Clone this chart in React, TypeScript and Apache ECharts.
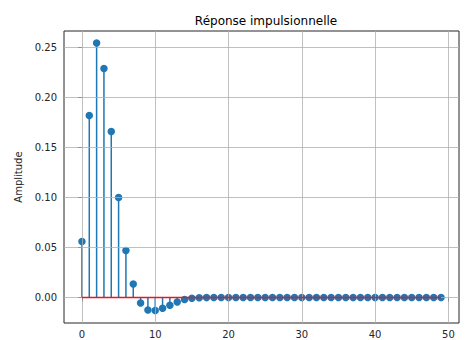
import React, { useEffect, useRef } from "react";
import * as echarts from "echarts";

const chartTitle = "Réponse impulsionnelle";
const yAxisName = "Amplitude";
const sampleIndex = [
  0, 1, 2, 3, 4, 5, 6, 7, 8, 9, 10, 11, 12, 13, 14, 15, 16, 17, 18, 19, 20, 21, 22, 23, 24,
  25, 26, 27, 28, 29, 30, 31, 32, 33, 34, 35, 36, 37, 38, 39, 40, 41, 42, 43, 44, 45, 46, 47, 48, 49,
];
const amplitude = [
  0.056, 0.182, 0.2545, 0.229, 0.166, 0.1, 0.047, 0.0135, -0.0055, -0.0125, -0.013, -0.0108,
  -0.0078, -0.0045, -0.002, -0.0007, -0.0003, -0.0001, 0, 0, 0, 0, 0, 0, 0, 0, 0, 0, 0, 0, 0, 0,
  0, 0, 0, 0, 0, 0, 0, 0, 0, 0, 0, 0, 0, 0, 0, 0, 0, 0,
];
const xTicks = [0, 10, 20, 30, 40, 50];
const yTicks = [0, 0.05, 0.1, 0.15, 0.2, 0.25];

const FONT = "DejaVu Sans";
const BLUE = "#1f77b4";
const RED = "#e8191c";

export default function App() {
  const ref = useRef<HTMLDivElement>(null);
  useEffect(() => {
    if (!ref.current) return;
    const chart = echarts.init(ref.current, undefined, { renderer: "svg" });
    const pts = sampleIndex.map((x, i) => [x, amplitude[i]]);
    const xMin = -2.45;
    const xMax = 51.45;
    const gridLines = [
      ...xTicks.map((v) => ({ xAxis: v })),
      ...yTicks.map((v) => ({ yAxis: v })),
    ];
    chart.setOption({
      animation: false,
      title: {
        text: chartTitle,
        left: 261,
        textAlign: "center",
        top: 10,
        textStyle: { fontFamily: FONT, fontSize: 12, fontWeight: "normal", color: "#000" },
      },
      grid: {
        left: 64,
        right: 10,
        top: 31,
        bottom: 17,
        show: true,
        borderColor: "#262626",
        borderWidth: 1,
        backgroundColor: "transparent",
      },
      xAxis: {
        type: "value",
        min: xMin,
        max: xMax,
        axisLine: { show: false },
        splitLine: { show: false },
        axisTick: {
          show: true,
          customValues: xTicks,
          length: 4,
          lineStyle: { color: "#262626", width: 1 },
        },
        axisLabel: {
          customValues: xTicks,
          fontFamily: FONT,
          fontSize: 10,
          color: "#262626",
          margin: 6,
        },
      },
      yAxis: {
        type: "value",
        min: -0.0255,
        max: 0.2665,
        name: yAxisName,
        nameLocation: "middle",
        nameGap: 40,
        nameTextStyle: { fontFamily: FONT, fontSize: 10, color: "#262626" },
        axisLine: { show: false },
        splitLine: { show: false },
        axisTick: {
          show: true,
          customValues: yTicks,
          length: 4,
          lineStyle: { color: "#262626", width: 1 },
        },
        axisLabel: {
          customValues: yTicks,
          fontFamily: FONT,
          fontSize: 10,
          color: "#262626",
          margin: 7,
          formatter: (v: number) => v.toFixed(2),
        },
      },
      series: [
        {
          type: "line",
          data: [],
          z: 0,
          silent: true,
          markLine: {
            silent: true,
            symbol: "none",
            label: { show: false },
            lineStyle: { color: "#b0b0b0", width: 0.8, type: "solid" },
            data: gridLines,
          },
        },
        {
          type: "custom",
          z: 2,
          data: pts,
          renderItem: (_params: any, api: any) => {
            const x = api.value(0);
            const y = api.value(1);
            const p0 = api.coord([x, 0]);
            const p1 = api.coord([x, y]);
            return {
              type: "line",
              shape: { x1: p0[0], y1: p0[1], x2: p1[0], y2: p1[1] },
              style: { stroke: BLUE, lineWidth: 1.5 },
            };
          },
        },
        {
          type: "scatter",
          z: 3,
          data: pts,
          symbol: "circle",
          symbolSize: 7.5,
          itemStyle: { color: BLUE, opacity: 1 },
        },
        {
          type: "line",
          zlevel: 1,
          z: 10,
          silent: true,
          data: [
            [sampleIndex[0], 0],
            [sampleIndex[sampleIndex.length - 1], 0],
          ],
          symbol: "none",
          lineStyle: { color: RED, width: 1.6, opacity: 1 },
        },
      ],
    });
    return () => chart.dispose();
  }, []);
  return (
    <div
      ref={ref}
      style={{ position: "fixed", left: 0, top: 0, width: 469, height: 340, background: "#fff" }}
    />
  );
}
